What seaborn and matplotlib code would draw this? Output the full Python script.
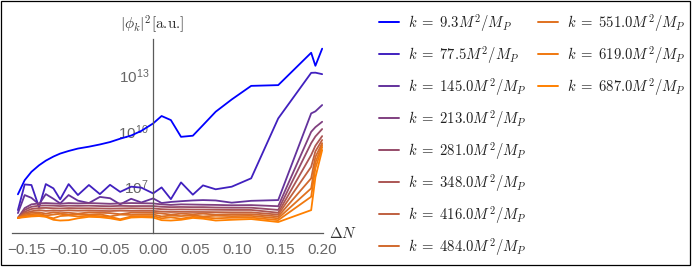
import numpy as np
import pandas as pd
import seaborn as sns
import matplotlib.pyplot as plt
from matplotlib.lines import Line2D
from matplotlib.patches import Rectangle

sns.set_theme(style="white")
plt.rcParams['font.family'] = ['Liberation Sans', 'DejaVu Sans']
plt.rcParams['mathtext.fontset'] = 'custom'
plt.rcParams['mathtext.rm'] = 'Liberation Sans'
plt.rcParams['mathtext.it'] = 'Liberation Sans:italic'

# Delta N grid
delta_n = [-0.160, -0.152, -0.144, -0.135, -0.127, -0.118, -0.110, -0.100, -0.089, -0.076,
           -0.063, -0.051, -0.039, -0.026, -0.014, 0.000, 0.010, 0.021, 0.033, 0.047,
           0.059, 0.074, 0.093, 0.116, 0.148, 0.187, 0.192, 0.200]

k_values = ['9.3', '77.5', '145.0', '213.0', '281.0', '348.0', '416.0', '484.0', '551.0', '619.0', '687.0']

# log10 |phi_k|^2
log_k9 = [6.59, 7.35, 7.80, 8.15, 8.40, 8.62, 8.78, 8.92, 9.05, 9.15, 9.27, 9.40, 9.58, 9.75, 10.0,
          10.40, 10.80, 10.58, 9.68, 9.74, 10.31, 11.03, 11.69, 12.42, 12.46, 14.20, 13.50, 14.42]
log_k77 = [5.74, 7.12, 7.09, 5.89, 7.14, 6.91, 6.32, 7.14, 6.55, 7.09, 6.60, 7.10, 6.72, 7.00, 6.95,
           6.64, 6.96, 6.33, 7.23, 6.57, 7.07, 6.86, 7.00, 7.45, 10.67, 13.12, 13.13, 13.05]
log_k145 = [5.58, 6.55, 6.40, 6.05, 6.60, 6.35, 6.10, 6.55, 6.25, 6.12, 6.45, 6.38, 6.05, 6.35, 6.15,
            6.37, 6.12, 6.18, 6.22, 6.26, 6.28, 6.26, 6.14, 6.24, 6.28, 10.94, 11.05, 11.39]
log_k213 = [5.32, 5.85, 6.05, 6.10, 6.12, 6.10, 6.08, 6.12, 6.10, 6.12, 6.10, 6.08, 6.10, 6.12, 6.11,
            6.10, 6.05, 6.02, 6.05, 6.04, 6.03, 6.02, 6.00, 6.01, 5.95, 9.95, 10.20, 10.49]
log_k281 = [5.32, 5.75, 5.92, 5.98, 5.99, 5.98, 5.96, 5.98, 5.97, 5.98, 5.96, 5.95, 5.97, 5.96, 5.96,
            5.96, 5.92, 5.90, 5.91, 5.90, 5.90, 5.88, 5.87, 5.87, 5.75, 9.34, 9.70, 10.10]
log_k348 = [5.32, 5.65, 5.80, 5.85, 5.86, 5.84, 5.83, 5.85, 5.84, 5.84, 5.83, 5.82, 5.83, 5.84, 5.83,
            5.83, 5.79, 5.77, 5.78, 5.77, 5.77, 5.76, 5.75, 5.75, 5.60, 8.70, 9.20, 9.72]
log_k416 = [5.32, 5.58, 5.68, 5.74, 5.70, 5.72, 5.70, 5.73, 5.71, 5.72, 5.70, 5.69, 5.71, 5.70, 5.70,
            5.70, 5.66, 5.64, 5.65, 5.64, 5.64, 5.63, 5.62, 5.62, 5.50, 8.07, 8.90, 9.51]
log_k484 = [5.32, 5.52, 5.60, 5.62, 5.55, 5.62, 5.58, 5.60, 5.55, 5.62, 5.60, 5.58, 5.52, 5.60, 5.60,
            5.60, 5.56, 5.50, 5.55, 5.52, 5.55, 5.50, 5.52, 5.52, 5.40, 7.45, 8.60, 9.34]
log_k551 = [5.32, 5.46, 5.52, 5.55, 5.45, 5.50, 5.54, 5.48, 5.52, 5.50, 5.52, 5.40, 5.50, 5.48, 5.50,
            5.51, 5.40, 5.45, 5.42, 5.46, 5.40, 5.44, 5.42, 5.43, 5.30, 6.91, 8.30, 9.24]
log_k619 = [5.32, 5.40, 5.45, 5.48, 5.40, 5.30, 5.42, 5.45, 5.40, 5.44, 5.42, 5.38, 5.25, 5.40, 5.42,
            5.42, 5.30, 5.35, 5.28, 5.38, 5.34, 5.30, 5.33, 5.34, 5.20, 6.46, 8.00, 9.13]
log_k687 = [5.32, 5.36, 5.40, 5.42, 5.38, 5.22, 5.18, 5.20, 5.30, 5.38, 5.36, 5.30, 5.20, 5.34, 5.36,
            5.34, 5.20, 5.18, 5.22, 5.32, 5.28, 5.18, 5.22, 5.26, 5.10, 5.74, 7.50, 8.97]

series = [log_k9, log_k77, log_k145, log_k213, log_k281, log_k348,
          log_k416, log_k484, log_k551, log_k619, log_k687]

x_ticks = [-0.15, -0.10, -0.05, 0.00, 0.05, 0.10, 0.15, 0.20]
x_tick_labels = ['\u22120.15', '\u22120.10', '\u22120.05', '0.00', '0.05', '0.10', '0.15', '0.20']
y_tick_exps = [5, 6, 7, 8, 9, 10, 11, 12, 13, 14]
y_labelled = [7, 10, 13]

colors = ['#0000ff', '#4020bf', '#63329c', '#804080', '#964c69', '#ab5654',
          '#bf6040', '#d1692e', '#e0711f', '#f0780f', '#ff8000']

labels = [r'$k\;=\;%sM^2/M_P$' % k for k in k_values]

rows = []
for lab, vals in zip(labels, series):
    for x, v in zip(delta_n, vals):
        rows.append({'dN': x, 'phi2': 10.0 ** v, 'k': lab})
df = pd.DataFrame(rows)
palette = dict(zip(labels, colors))

fig = plt.figure(figsize=(6.93, 2.68), dpi=100)
ax = fig.add_axes([12 / 693, 1 - 233 / 268, (323 - 12) / 693, (233 - 39) / 268])

sns.lineplot(data=df, x='dN', y='phi2', hue='k', hue_order=labels, palette=palette,
             estimator=None, sort=False, linewidth=1.3, legend=False, ax=ax)

ax.set_yscale('log')
ax.set_xlim(-0.167, 0.201)
ax.set_ylim(10 ** 4.51, 10 ** 14.94)
ax.set_xlabel('')
ax.set_ylabel('')

axis_col = '#5a5a5a'
for s in ['top', 'right']:
    ax.spines[s].set_visible(False)
ax.spines['left'].set_position(('data', 0))
ax.spines['left'].set_color(axis_col)
ax.spines['bottom'].set_color(axis_col)
ax.spines['left'].set_linewidth(0.9)
ax.spines['bottom'].set_linewidth(0.9)

ax.set_xticks(x_ticks, labels=x_tick_labels)
ax.set_xticks(np.round(np.arange(-0.16, 0.201, 0.01), 2), minor=True)
ytick_vals = [10.0 ** e for e in y_tick_exps]
ytick_labs = [(r'$10^{%d}$' % e) if e in y_labelled else '' for e in y_tick_exps]
ax.set_yticks(ytick_vals, labels=ytick_labs)
ax.yaxis.set_minor_locator(plt.NullLocator())

ax.tick_params(axis='x', which='major', direction='in', length=4, width=0.8,
               color=axis_col, labelcolor='#666666', labelsize=11, pad=7.5)
ax.tick_params(axis='x', which='minor', direction='in', length=2.2, width=0.6, color=axis_col)
ax.tick_params(axis='y', which='major', direction='in', length=3, width=0.8,
               color=axis_col, labelcolor='#666666', labelsize=11, pad=3)
ax.set_facecolor('white')
ax.patch.set_alpha(0)

fig.text(152.5 / 693, 1 - 24 / 268, r'$|\phi_k|^2$[a.u.]', ha='center', va='center',
         fontsize=11, color='#333333', family='cmr10', math_fontfamily='cm')
fig.text(329 / 693, 1 - 234 / 268, r'$\Delta N$', ha='left', va='center',
         fontsize=11, color='#333333', math_fontfamily='cm')

handles = [Line2D([], [], color=c, lw=1.4) for c in colors]
legend_font = {'size': 10.6, 'math_fontfamily': 'cm'}
leg_kw = dict(loc='upper left', frameon=False, prop=legend_font, handlelength=1.35,
              handletextpad=0.6, labelspacing=0.68, borderpad=0, borderaxespad=0)
leg1 = fig.legend(handles[:8], labels[:8], bbox_to_anchor=(379 / 693, 1 - 12 / 268), **leg_kw)
leg2 = fig.legend(handles[8:], labels[8:], bbox_to_anchor=(538 / 693, 1 - 12 / 268), **leg_kw)
for leg in (leg1, leg2):
    for t in leg.get_texts():
        t.set_color('#222222')

fig.patches.append(Rectangle((1 / 693, 1 - 265 / 268), 689 / 693, 264 / 268,
                             transform=fig.transFigure, fill=False, ec='black', lw=0.9))

fig.savefig('out.png', dpi=100, facecolor='white')
